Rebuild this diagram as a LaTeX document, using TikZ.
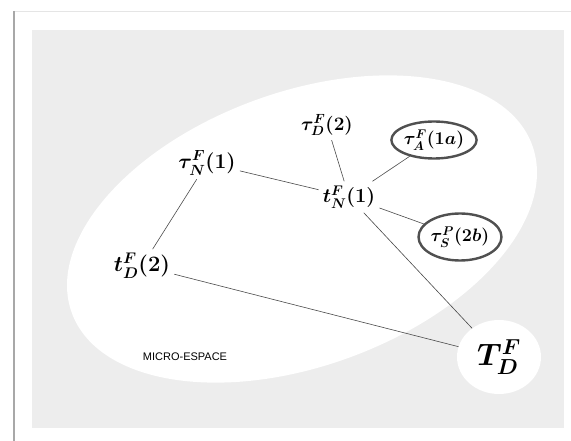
\RequirePackage{fix-cm}
\documentclass[tikz,border=0pt]{standalone}
\usepackage{fontspec}
\newfontfamily\arialfont{Liberation Sans}
\usetikzlibrary{shapes.geometric}
\definecolor{PanelGray}{HTML}{EDEDED}
\definecolor{FrameGray}{HTML}{A8A8A8}
\definecolor{LinkGray}{HTML}{4A4A4A}
\definecolor{OvalGray}{HTML}{505050}
\tikzset{
  term/.style={inner sep=4pt, font=\fontsize{21}{24}\selectfont\boldmath},
  oval/.style={ellipse, draw=OvalGray, line width=2.4pt, inner sep=0pt, fill=white,
    font=\fontsize{18}{21}\selectfont\boldmath},
  link/.style={line width=0.6pt, LinkGray}
}
\begin{document}
\begin{tikzpicture}[x=1pt,y=-1pt]
    \useasboundingbox (0,0) rectangle (571,441);
    \coordinate (PanelMin)    at (32,30);
    \coordinate (PanelMax)    at (564,428);
    \coordinate (MicroCentre) at (302,229);
    \draw [gray!20] (14,11) -- (571,11);% top edge of the page
    \draw [FrameGray, line width=1.3pt] (14,11) -- (14,441);% left edge of the page
    \fill [PanelGray] (PanelMin) rectangle (PanelMax);
    % micro-space and the outside term
    \node [ellipse, fill=white, inner sep=0pt, minimum width=490pt, minimum height=274pt, rotate=20] (Micro) at (MicroCentre) {};
    \node [ellipse, fill=white, inner sep=0pt, minimum width=84pt, minimum height=74pt,
           font=\fontsize{31}{35}\selectfont\boldmath] (TD) at (499,357) {$T^F_D$};
    \node [font=\arialfont\fontsize{11}{13}\selectfont] (MicroLabel) at (185,357) {MICRO-ESPACE};
    % terms inside
    \node [term, font=\fontsize{19}{22}\selectfont\boldmath] (TauDTwo) at (327,125) {$\tau^F_D(2)$};
    \node [term] (TauNOne) at (207,163) {$\tau^F_N(1)$};
    \node [term, font=\fontsize{20}{23}\selectfont\boldmath] (TNOne)   at (349,197) {$t^F_N(1)$};
    \node [term, font=\fontsize{22}{25}\selectfont\boldmath] (TDTwo)   at (142,266) {$t^F_D(2)$};
    \node [oval, minimum width=82pt, minimum height=37pt] (TauAOneA) at (434,140) {$\tau^F_A(1a)$};
    \node [oval, minimum width=78pt, minimum height=47pt] (TauSTwoB) at (460,237) {$\tau^P_S(2b)$};
    % links
    \draw [link] (TauDTwo) -- (TNOne);
    \draw [link] (TauNOne) -- (TNOne);
    \draw [link] (TauNOne) -- (TDTwo);
    \draw [link] (TNOne) -- (TauAOneA);
    \draw [link] (TNOne) -- (TauSTwoB);
    \draw [link] (TNOne) -- (TD);
    \draw [link] (TDTwo) -- (TD);
  \end{tikzpicture}
\end{document}
